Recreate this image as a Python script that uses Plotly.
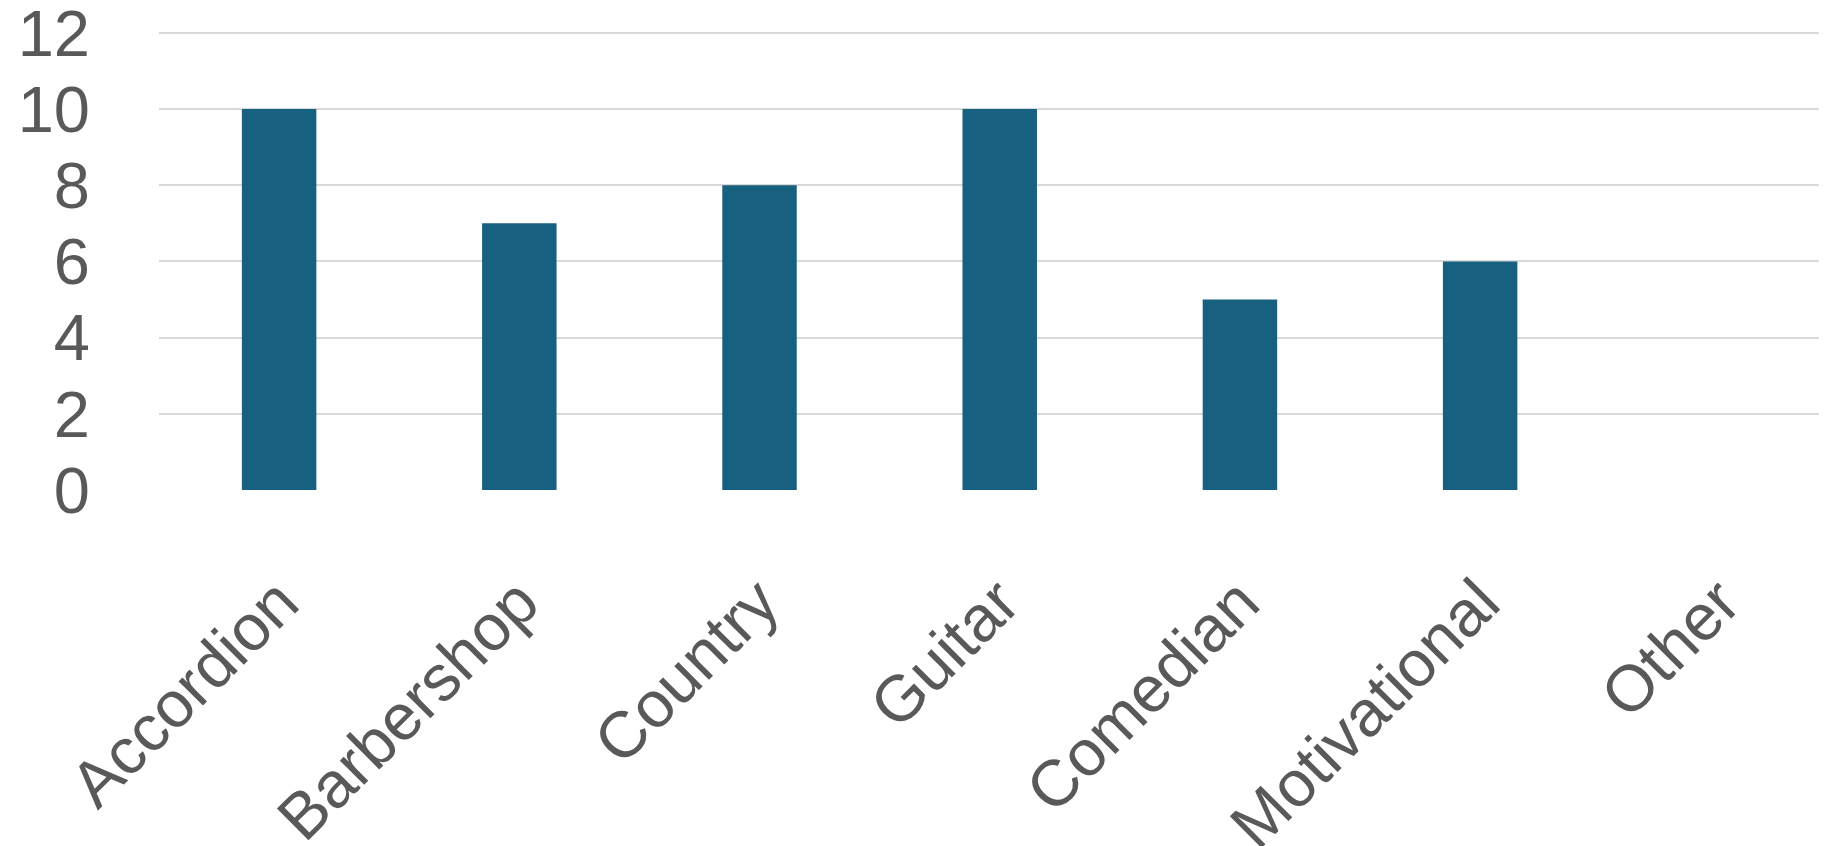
import plotly.graph_objects as go

categories = ["Accordion", "Barbershop", "Country", "Guitar", "Comedian", "Motivational", "Other"]
values = [10, 7, 8, 10, 5, 6, 0]
y_ticks = [0, 2, 4, 6, 8, 10, 12]

fig = go.Figure()
fig.add_trace(go.Bar(
    x=categories, y=values,
    marker=dict(color="#17607F", line=dict(width=0)),
    width=0.31,
))

font_family = "Liberation Sans, Arial, sans-serif"
fig.update_layout(
    width=1819, height=838,
    margin=dict(l=151, r=0, t=23, b=356),
    paper_bgcolor="white", plot_bgcolor="white",
    showlegend=False,
    font=dict(family=font_family, color="#595959", size=65),
    xaxis=dict(
        range=[-0.5, 6.444],
        tickangle=-45,
        tickfont=dict(size=65, color="#595959", family=font_family),
        showgrid=False, showline=False, zeroline=False,
        ticks="", ticklabelstandoff=60,
        ticklabeloverflow="allow",
        automargin=False,
        fixedrange=True,
    ),
    yaxis=dict(
        range=[0, 12.05],
        tickvals=y_ticks,
        ticktext=[str(v) for v in y_ticks],
        tickfont=dict(size=65, color="#595959", family=font_family),
        showgrid=True, gridcolor="#D9D9D9", gridwidth=1.5,
        zeroline=False, showline=False, ticks="",
        ticklabelstandoff=68,
        ticklabeloverflow="allow",
        automargin=False,
        fixedrange=True,
    ),
)

fig.write_html("out.html", config={"displayModeBar": False})
